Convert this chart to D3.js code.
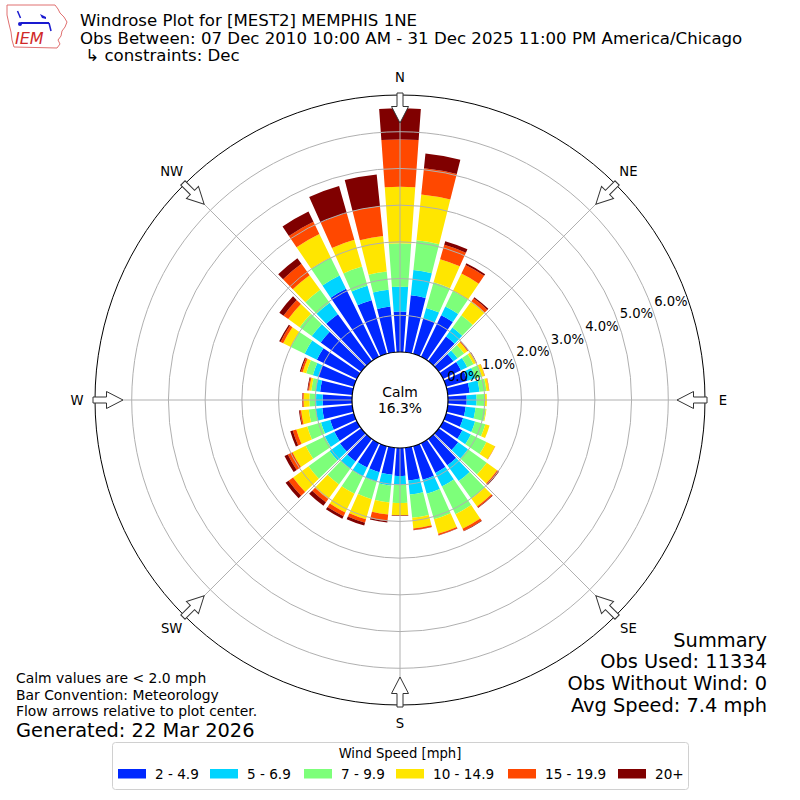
<!DOCTYPE html>
<html>
<head>
<meta charset="utf-8">
<script src="https://cdn.jsdelivr.net/npm/d3@7"></script>
<style>
  html, body { margin: 0; padding: 0; background: #fff; }
  svg { display: block; }
  text { font-family: "DejaVu Sans", sans-serif; }
</style>
</head>
<body>
<svg id="chart" width="800" height="800"></svg>
<script>
// ---------------- DATA ----------------
const directions = [0,10,20,30,40,50,60,70,80,90,100,110,120,130,140,150,160,170,
                    180,190,200,210,220,230,240,250,260,270,280,290,300,310,320,330,340,350];
const speedBins = ["2 - 4.9", "5 - 6.9", "7 - 9.9", "10 - 14.9", "15 - 19.9", "20+"];
const binColors = ["#0028ff", "#00d4ff", "#7dff7a", "#ffe600", "#ff4800", "#800000"];

// percent of observations per direction for each speed bin
const s2to5   = [1.10,1.56,1.01,1.26,0.83,0.49,0.54,0.60,0.60,0.51,0.49,0.48,0.58,0.65,0.89,0.90,0.95,0.90,
                 0.76,0.74,0.74,0.74,0.76,0.71,0.68,0.67,0.82,0.80,0.88,1.01,1.21,1.36,1.58,2.06,1.52,1.25];
const s5to7   = [0.68,0.69,0.29,0.26,0.30,0.14,0.19,0.22,0.27,0.27,0.27,0.34,0.26,0.33,0.53,0.41,0.40,0.38,
                 0.25,0.30,0.27,0.27,0.25,0.35,0.29,0.26,0.18,0.18,0.12,0.15,0.37,0.30,0.38,0.40,0.41,0.46];
const s7to10  = [1.18,0.82,0.73,0.47,0.41,0.22,0.19,0.19,0.19,0.23,0.28,0.29,0.47,0.63,0.59,0.84,0.72,0.64,
                 0.49,0.46,0.49,0.52,0.52,0.71,0.58,0.39,0.19,0.18,0.12,0.19,0.42,0.41,0.44,0.55,0.54,0.50];
const s10to15 = [1.54,1.25,0.65,0.53,0.47,0.11,0.08,0.08,0.07,0.05,0.02,0.12,0.26,0.35,0.26,0.44,0.41,0.29,
                 0.33,0.33,0.57,0.57,0.49,0.52,0.40,0.31,0.21,0.16,0.06,0.10,0.23,0.38,0.49,0.71,0.76,0.97];
const s15to20 = [1.29,0.72,0.41,0.26,0.10,0.02,0.01,0.01,0.01,0.00,0.00,0.00,0.01,0.03,0.04,0.07,0.04,0.04,
                 0.01,0.18,0.10,0.11,0.11,0.15,0.14,0.10,0.04,0.03,0.03,0.05,0.08,0.16,0.38,0.37,0.76,0.82];
const s20plus = [0.85,0.40,0.10,0.05,0.04,0.01,0.01,0.00,0.00,0.00,0.00,0.00,0.00,0.03,0.01,0.01,0.01,0.01,
                 0.01,0.04,0.08,0.08,0.12,0.10,0.10,0.07,0.02,0.01,0.02,0.03,0.04,0.14,0.19,0.31,0.76,0.87];
const series = [s2to5, s5to7, s7to10, s10to15, s15to20, s20plus];

const radialTicks = [0, 1, 2, 3, 4, 5, 6];
const radialTickLabels = ["0.0%", "1.0%", "2.0%", "3.0%", "4.0%", "5.0%", "6.0%"];
const compassAngles = [0, 45, 90, 135, 180, 225, 270, 315];
const compassLabels = ["N", "NE", "E", "SE", "S", "SW", "W", "NW"];

const titleLines = ["Windrose Plot for [MEST2] MEMPHIS 1NE",
                    "Obs Between: 07 Dec 2010 10:00 AM - 31 Dec 2025 11:00 PM America/Chicago",
                    " \u21b3 constraints: Dec"];
const calmLabel = ["Calm", "16.3%"];
const footLines = ["Calm values are < 2.0 mph", "Bar Convention: Meteorology", "Flow arrows relative to plot center."];
const generatedLine = "Generated: 22 Mar 2026";
const summaryLines = ["Summary", "Obs Used: 11334", "Obs Without Wind: 0", "Avg Speed: 7.4 mph"];
const legendTitle = "Wind Speed [mph]";

// ---------------- LAYOUT ----------------
const svg = d3.select("#chart");
const cx = 400, cy = 400;
const calmR = 48, outerR = 305;
const rScale = d3.scaleLinear().domain([0, 7]).range([calmR, outerR]);
const toRad = d => d * Math.PI / 180;
const barWidthDeg = 8.2;

const g = svg.append("g").attr("transform", `translate(${cx},${cy})`);

// stacked bars
const stacked = directions.map((dir, i) => {
  let acc = 0;
  return series.map((s, k) => {
    const seg = { dir, k, lo: acc, hi: acc + s[i] };
    acc += s[i];
    return seg;
  });
}).flat().filter(d => d.hi > d.lo);

const arc = d3.arc()
  .innerRadius(d => rScale(d.lo))
  .outerRadius(d => rScale(d.hi))
  .startAngle(d => toRad(d.dir - barWidthDeg / 2))
  .endAngle(d => toRad(d.dir + barWidthDeg / 2));

g.append("g").selectAll("path").data(stacked).join("path")
  .attr("d", arc)
  .attr("fill", d => binColors[d.k]);

// grid circles (on top of bars)
g.append("g").selectAll("circle").data(radialTicks.filter(t => t > 0)).join("circle")
  .attr("r", d => rScale(d))
  .attr("fill", "none")
  .attr("stroke", "#b0b0b0")
  .attr("stroke-width", 1);

// radial grid lines
g.append("g").selectAll("line").data(compassAngles).join("line")
  .attr("x1", d => calmR * Math.sin(toRad(d)))
  .attr("y1", d => -calmR * Math.cos(toRad(d)))
  .attr("x2", d => outerR * Math.sin(toRad(d)))
  .attr("y2", d => -outerR * Math.cos(toRad(d)))
  .attr("stroke", "#b0b0b0")
  .attr("stroke-width", 1);

// outer frame
g.append("circle").attr("r", outerR).attr("fill", "none").attr("stroke", "#000").attr("stroke-width", 1);

// calm circle
g.append("circle").attr("r", calmR).attr("fill", "#fff").attr("stroke", "#000").attr("stroke-width", 1.2);
g.append("text").attr("x", 0).attr("y", -3).attr("text-anchor", "middle")
  .attr("font-size", 13.9).text(calmLabel[0]);
g.append("text").attr("x", 0).attr("y", 13).attr("text-anchor", "middle")
  .attr("font-size", 13.9).text(calmLabel[1]);

// radial tick labels
const labelAngle = toRad(20);
g.append("g").selectAll("text").data(radialTicks).join("text")
  .attr("x", d => (rScale(d) + 20) * Math.cos(labelAngle))
  .attr("y", d => -(rScale(d) + 20) * Math.sin(labelAngle))
  .attr("text-anchor", "middle")
  .attr("dominant-baseline", "central")
  .attr("font-size", 13.2)
  .text((d, i) => radialTickLabels[i]);

// flow arrows
const arrowPts = [[307,-3],[293.5,-3],[293.5,-8.5],[277,0],[293.5,8.5],[293.5,3],[307,3]];
g.append("g").selectAll("path").data(compassAngles).join("path")
  .attr("d", "M" + arrowPts.map(p => p.join(",")).join("L") + "Z")
  .attr("transform", d => `rotate(${d - 90})`)
  .attr("fill", "#fff")
  .attr("stroke", "#333")
  .attr("stroke-width", 1);

// compass labels
g.append("g").selectAll("text").data(compassAngles).join("text")
  .attr("x", d => 323 * Math.sin(toRad(d)))
  .attr("y", d => -323 * Math.cos(toRad(d)))
  .attr("text-anchor", "middle")
  .attr("dominant-baseline", "central")
  .attr("font-size", 13.2)
  .text((d, i) => compassLabels[i]);

// ---------------- TITLE ----------------
const titleY = [26, 43.5, 61];
svg.append("g").selectAll("text").data(titleLines).join("text")
  .attr("x", 80).attr("y", (d, i) => titleY[i])
  .attr("font-size", 16.6)
  .attr("xml:space", "preserve")
  .style("white-space", "pre")
  .text(d => d);

// logo
const logo = svg.append("g");
logo.append("path")
  .attr("d", "M7,5 L55,5 L58,9 L60,13 L64,17 L67,22 L65,27 L62,31 L61,36 L58,40 L60,44 L57,48 L14,47 L12,40 L11,32 L9,24 L7,15 Z")
  .attr("fill", "#fff").attr("stroke", "#e07070").attr("stroke-width", 1);
logo.append("line").attr("x1", 21).attr("y1", 23).attr("x2", 49).attr("y2", 23)
  .attr("stroke", "#1a1ad0").attr("stroke-width", 2);
logo.append("circle").attr("cx", 20).attr("cy", 24).attr("r", 2).attr("fill", "#1a1ad0");
logo.append("path").attr("d", "M40,14 L46,17 L46,19 L42,18 Z").attr("fill", "#1a1ad0");
logo.append("line").attr("x1", 17.5).attr("y1", 11).attr("x2", 20.5).attr("y2", 18)
  .attr("stroke", "#1a1ad0").attr("stroke-width", 1.5);
logo.append("line").attr("x1", 49).attr("y1", 23).attr("x2", 51).attr("y2", 31)
  .attr("stroke", "#1a1ad0").attr("stroke-width", 1.5);
logo.append("text").attr("x", 15).attr("y", 44)
  .attr("font-family", "Liberation Serif, serif").attr("font-style", "italic")
  .attr("font-size", 16).attr("fill", "#d02828").text("IEM");

// ---------------- FOOTNOTES ----------------
const footY = [683, 699.5, 715.5];
svg.append("g").selectAll("text").data(footLines).join("text")
  .attr("x", 16).attr("y", (d, i) => footY[i])
  .attr("font-size", 13.9).text(d => d);
svg.append("text").attr("x", 16).attr("y", 737).attr("font-size", 19.4).text(generatedLine);

const sumY = [646.5, 668.3, 690, 711.5];
svg.append("g").selectAll("text").data(summaryLines).join("text")
  .attr("x", 767).attr("y", (d, i) => sumY[i])
  .attr("text-anchor", "end")
  .attr("font-size", 19.4).text(d => d);

// ---------------- LEGEND ----------------
const leg = svg.append("g");
leg.append("rect").attr("x", 112.5).attr("y", 742.5).attr("width", 576).attr("height", 47)
  .attr("rx", 3).attr("fill", "#fff").attr("stroke", "#d0d0d0").attr("stroke-width", 1);
leg.append("text").attr("x", 400).attr("y", 758).attr("text-anchor", "middle")
  .attr("font-size", 13.2).text(legendTitle);
const swatchX = [118, 210, 304, 396, 508, 618];
const items = leg.selectAll("g.item").data(speedBins).join("g").attr("class", "item")
  .attr("transform", (d, i) => `translate(${swatchX[i]},0)`);
items.append("rect").attr("x", 0).attr("y", 769).attr("width", 28).attr("height", 9.5)
  .attr("fill", (d, i) => binColors[i]);
items.append("text").attr("x", 37).attr("y", 779).attr("font-size", 13.6).text(d => d);
</script>
</body>
</html>
